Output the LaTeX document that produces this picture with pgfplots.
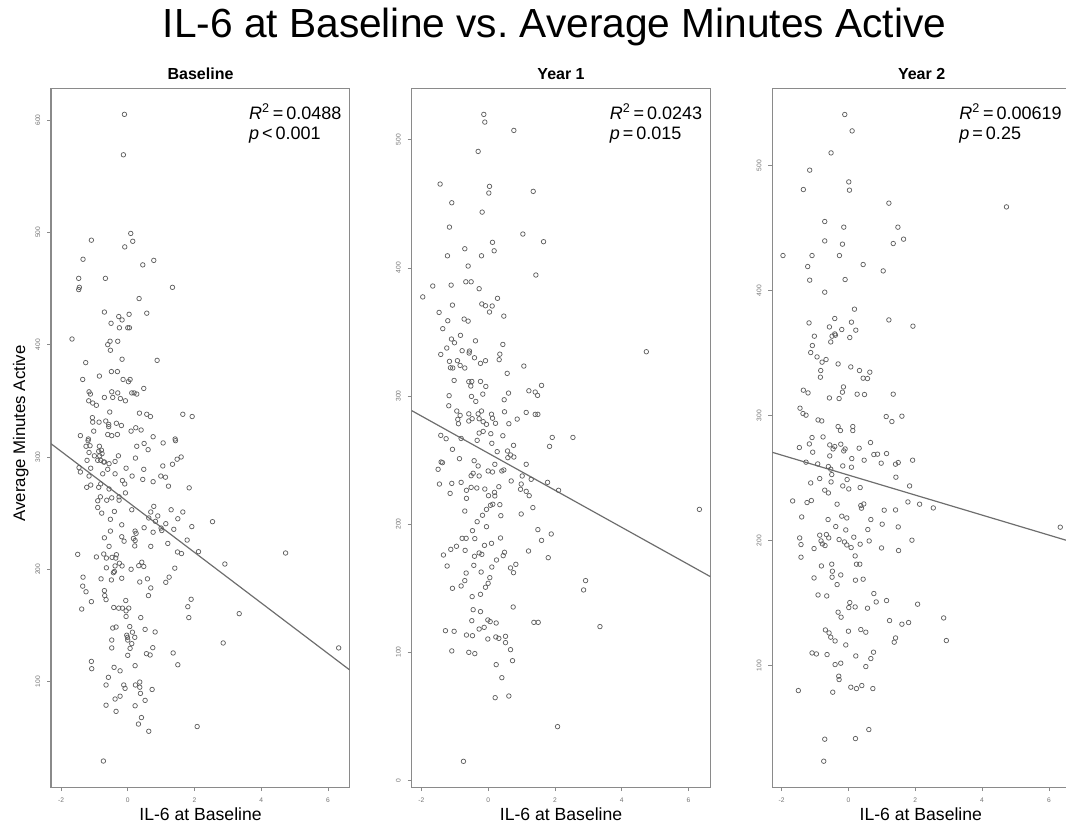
\documentclass[border=0pt]{standalone}
\usepackage{pgfplots}
\pgfplotsset{compat=1.18}
\usepackage{fontspec}
\setmainfont{Liberation Sans}

\definecolor{framegray}{HTML}{8A8A8A}
\definecolor{markgray}{HTML}{606060}
\definecolor{linegray}{HTML}{6E6E6E}

\pgfplotsset{
  panel/.style={
    scale only axis,
    width=224pt, height=524pt,
    anchor=south west,
    axis line style={framegray, line width=0.9pt},
    tick align=outside,
    xtick pos=bottom, ytick pos=left,
    major tick length=3pt,
    tick style={framegray, line width=0.5pt},
    xtick={-2,0,2,4,6},
    tick label style={font=\fontsize{5}{6}\selectfont, text=black!55},
    /pgf/number format/assume math mode=true,
    xticklabel style={inner sep=5pt},
    yticklabel style={rotate=90, anchor=south, inner sep=5pt},
    clip=true,
  },
  pts/.style={only marks, mark=o, mark size=1.7pt,
    mark options={draw=markgray, line width=0.55pt}},
  fit/.style={no marks, linegray, line width=0.9pt},
}
\tikzset{stat/.style={anchor=north east, align=left, inner sep=0pt,
    font=\fontsize{13.5}{14.5}\selectfont}}

\begin{document}
\begin{tikzpicture}
\useasboundingbox (0,0) rectangle (799.5pt,618pt);

% ---------- Baseline ----------
\begin{axis}[panel, at={(38.25pt,27.6pt)},
  xmin=-2.3, xmax=6.65, ymin=6, ymax=628,
  ytick={100,200,300,400,500,600}]
\addplot[pts] coordinates {
(-0.10,605)(-0.13,569)(0.09,499)(0.15,492)(-0.09,487)(-1.09,493)(-1.34,476)(0.78,475)(0.45,471)(-1.47,459)
(-0.67,459)(-1.45,451)(-1.47,449)(1.34,451)(0.34,441)(-0.70,429)(0.57,428)(-0.27,425)(-0.17,422)(0.04,427)
(-0.50,419)(-0.25,415)(0.00,415)(0.05,415)(-1.67,405)(-0.30,403)(-0.53,403)(-0.60,400)(-0.52,395)(-0.17,387)
(0.88,386)(-1.26,384)(-0.49,376)(-0.31,376)(-0.85,372)(-1.35,369)(-0.14,369)(0.02,367)(0.07,369)(0.48,361)
(-1.16,358)(-1.12,356)(-0.48,358)(-0.30,357)(0.12,357)(0.19,357)(0.27,356)(-0.70,353)(-0.45,353)(-0.22,352)
(-0.07,350)(-1.17,350)(-1.05,348)(-0.94,346)(-0.54,340)(0.35,339)(0.57,338)(0.68,336)(1.65,338)(1.93,336)
(-1.06,335)(-1.05,331)(-0.86,331)(-0.66,332)(-0.57,329)(-0.34,330)(-0.19,328)(-0.57,327)(0.24,326)(0.10,323)
(0.40,324)(-1.02,323)(-1.42,319)(-0.60,320)(-0.48,319)(-0.31,320)(0.76,318)(1.42,316)(-1.18,316)
(-1.19,314.5)(-1.13,310)(-1.25,309.5)(-0.85,309.5)(0.27,309.5)(-1.16,304)(-1.0,301)(-0.87,305)(-0.79,306)(-0.77,303)
(-0.84,301)(-0.81,297)(-0.72,295.5)(-0.70,295.5)(-0.9,297)(-1.22,297)(-0.28,301)(-0.38,296)(-0.56,294)(0.23,299)
(0.48,289)(1.05,292)(1.34,293.5)(1.48,298)(1.60,300)(0.61,306.5)(0.49,312)(1.06,312.5)(1.43,314.5)(-1.46,290.5)
(-1.42,286.6)(-1.16,283)(-1.11,290)(-0.6,289)(-0.75,285)(-0.38,285)(-0.05,290)(0.13,283)(-0.16,279)(-0.09,276)
(0.45,280)(0.76,278)(0.99,283)(1.13,282)(1.22,274)(1.84,272.5)(-1.23,273)(-1.11,275)(-0.87,273)(-0.81,276)
(-0.56,271.5)(-0.07,268)(-0.26,264.5)(-0.26,261.5)(-0.48,263.6)(-0.63,261.5)(-0.9,261)(-0.82,264.5)(-0.9,255)(-0.78,250)
(-0.4,251.5)(0.12,253)(0.78,256)(0.69,251)(0.9,247.5)(0.63,245.7)(0.83,242.7)(1.3,253)(1.65,251)(1.5,245)
(1.92,238)(2.54,242.4)(-0.52,244.5)(-0.18,239.6)(-0.52,234)(0.22,234)(0.25,232)(0.49,237)(0.76,233)(1.0,236.7)
(1.02,234.5)(1.14,240.6)(1.38,235.6)(-0.70,228)(-0.56,220.4)(-0.11,225)(0.17,227.4)(0.22,225.6)(0.21,220.8)(-0.18,229)
(0.69,220.4)(1.2,223)(1.78,226)(1.49,215.4)(1.61,214)(2.12,215.7)(-1.5,213.3)(-0.94,211)(-0.72,213.6)(-0.64,210)
(-0.47,210.6)(-0.34,213)(-0.36,210)(-0.25,205.4)(-0.17,203)(-0.38,203)(-0.64,201.3)(0.42,206.3)(0.48,202.5)(0.33,203.2)
(0.1,200)(-0.4,198)(-0.43,197)(-0.49,190.5)(-0.8,191.5)(-0.18,192)(0.59,191.5)(0.36,188.7)(0.69,183.4)(0.62,176.6)
(1.14,188.4)(1.24,193)(1.41,201)(2.91,204.7)(4.73,214.5)(-1.34,193)(-1.35,185)(-1.25,180)(-1.09,171.2)(-1.38,164.6)
(-0.7,181)(-0.69,176.6)(-0.65,173)(-0.42,166)(-0.27,165.4)(-0.16,165.4)(-0.06,172.2)(-0.05,163)(0.03,165.4)(-0.05,158)
(1.9,173.3)(1.8,166.7)(1.83,157)(3.34,160.5)(-0.45,147.7)(-0.35,148.6)(0.06,149)(0.14,144)(0.39,157)(0.52,146.5)
(0.82,144.2)(-0.03,141.3)(-0.01,139.4)(0.21,139.4)(-0.48,137)(0.0,137)(0.12,133.8)(-0.48,130)(0.07,129.6)(0.75,130.2)
(2.86,134.4)(6.32,130)(0.0,123.4)(0.56,124.9)(0.67,123.7)(1.36,125.5)(1.5,115)(-1.09,118)(-1.08,111.5)(-0.41,112.7)
(-0.23,109.6)(0.22,114.2)(-0.58,103.8)(-0.65,97)(-0.12,97)(-0.08,94)(0.23,97)(0.36,99.6)(0.36,95)(0.73,93)
(0.38,89.5)(-0.38,84.5)(-0.23,87)(-0.65,79)(0.22,78.5)(0.52,83.3)(-0.35,73.5)(0.41,68)(0.32,62.2)(0.63,55.8)
(2.08,60)(-0.73,29.3)
};
\addplot[fit] coordinates {(-2.3,311.8)(6.65,110.4)};
\node[stat] at (rel axis cs:0.973,0.978) {\textit{R}\textsuperscript{2}\,=\,0.0488\\\textit{p}\,<\,0.001};
\end{axis}

% ---------- Year 1 ----------
\begin{axis}[panel, at={(308.8pt,27.6pt)},
  xmin=-2.29, xmax=6.66, ymin=-5.5, ymax=540,
  ytick={0,100,200,300,400,500}]
\addplot[pts] coordinates {
(-0.13,519.8)(-0.10,513.8)(0.77,507.3)(-0.3,490.9)(-1.44,465.4)(0.04,463.6)(0.02,458.4)(1.35,459.7)(-1.09,450.8)(-0.18,443.5)
(-1.16,431.8)(1.04,426.4)(0.13,419.9)(1.66,420.4)(-0.7,414.9)(0.18,413.3)(-1.22,409.4)(-0.2,409.4)(-0.6,401.4)(1.43,394.4)
(-0.67,389.1)(-0.51,389.1)(-1.66,385.8)(-1.11,386.5)(-0.27,383.7)(-1.96,377.3)(0.28,376.2)(-0.19,371.8)(-0.08,370.4)(0.12,370.2)
(-1.07,370.9)(-1.47,365.2)(0.04,365.5)(0.47,362.3)(-1.21,358.7)(-0.72,360)(-0.6,358.4)(-1.36,352.5)(-0.83,347.3)(-1.1,344.4)
(-1.01,341.5)(-0.38,343)(-1.24,337.4)(-0.78,335.3)(-0.56,335)(-0.57,333.5)(0.44,340.2)(-1.42,332.4)(-0.41,329.8)(0.35,332.6)
(0.33,328.3)(-1.16,327)(-0.92,327.5)(-0.08,327.5)(-0.23,325.4)(-1.13,322)(-1.06,321.8)(-0.84,323.8)(-0.7,321.8)(1.07,323.3)
(0.57,317.6)(-1.02,312.1)(-0.58,311.1)(-0.49,311.3)(-0.23,311.3)(-0.07,307.4)(-0.52,307.7)(1.6,308.2)(1.22,304)(1.41,303)
(1.48,300.4)(0.61,302.2)(-1.17,300.2)(-0.5,299.6)(-0.16,301.4)(-0.37,295.7)(0.48,297)(-1.18,292.3)(-0.94,288.2)(-0.84,284.8)
(-0.91,281.7)(-0.89,278.3)(-0.58,286)(-0.58,280.4)(-0.48,282.2)(-0.3,286)(-0.2,288.2)(-0.27,282.2)(-0.15,279.9)(-0.05,277.8)
(0.1,285.7)(0.13,282.6)(0.22,278.6)(0.49,287.6)(0.87,281.9)(0.62,278.3)(1.14,287.1)(1.41,285.6)(1.49,285.6)(-0.27,271)
(-0.15,272.3)(0.08,270.5)(0.44,268.9)(-1.42,269.2)(-1.26,266.6)(-0.81,266.8)(1.92,267.6)(2.54,267.6)(-0.33,265.3)(0.11,263)
(0.76,261.4)(1.84,260.6)(4.74,334.5)
(-1.07,258.3)(0.27,256.5)(0.58,257)(0.67,253.9)(0.59,251.8)(0.77,252.3)(-0.86,251)(-1.41,248.4)(-1.37,247.9)(-0.42,249.4)
(0.2,246.6)(1.14,246.6)(-0.3,245.3)(-1.5,242.7)(0.0,241.4)(0.13,240.6)(0.41,241.4)(0.47,242.2)(-0.45,239.6)(-0.51,237.7)
(-0.27,237.5)(1.02,237.5)(1.29,234.9)(-1.46,231.2)(-1.09,231.7)(-0.81,232.5)(0.69,233.6)(0.99,231.2)(1.78,232.5)(-0.51,228.6)
(-0.34,228.1)(-0.1,227.3)(0.32,229.1)(-0.65,226.3)(0.97,227.1)(1.14,225.5)(2.11,226.3)(-1.14,223.9)(0.01,222.1)(0.2,221.9)
(0.19,224.7)(1.23,222.1)(-0.65,220)(0.07,214.6)(0.14,215.4)(0.35,215.1)(-0.05,211.4)(-0.7,210.1)(1.34,212.8)(-0.17,206.8)
(0.38,206.5)(0.99,207.8)(6.33,211.4)(-0.33,201.8)(-0.05,197.9)(-0.47,194.8)(1.49,195.6)(-0.78,188.8)(-0.66,188.8)(-0.4,188.6)
(0.37,189.1)(1.89,192.2)(1.6,187.2)(-0.95,182.6)(-1.12,180.2)(-0.69,179.4)(-0.11,183.3)(0.1,184.9)(-1.34,175.8)(-0.41,174.8)
(-0.27,177.4)(-0.19,176.3)(0.45,175.3)(0.49,177.9)(0.25,171.9)(1.21,178.9)(1.8,173.7)(-1.23,167.2)(-0.43,167.7)(0.11,166.4)
(0.67,165.7)(0.83,168.5)(-0.66,161.7)(-0.21,162.5)(0.76,162)(-0.7,155.8)(0.05,158.1)(0.0,153.7)(-0.08,150.6)(-1.07,149.8)
(-0.81,151.6)(2.92,155.8)(2.86,148.5)(-0.48,143.3)(-0.23,145.1)(0.75,135.2)(-0.45,133.1)(-0.23,131.6)(-0.49,124.5)(-0.01,125.1)
(0.06,123.8)(0.24,122.7)(1.37,123.2)(1.5,123.2)(3.35,119.9)(-1.28,116.7)(-1.02,116.2)(-0.27,118)(-0.12,119.3)(-0.65,113.3)
(-0.47,112.8)(0.23,111.8)(0.32,110.7)(0.52,112.3)(-0.01,110.2)(0.52,107.4)(-1.09,100.9)(-0.58,99.8)(-0.4,98.8)(0.67,101.9)
(0.73,93.3)(0.24,90.2)(0.41,80)(0.21,64.4)(0.62,65.7)(2.08,41.8)(-0.74,14.7)
};
\addplot[fit] coordinates {(-2.29,288.5)(6.66,158.9)};
\node[stat] at (rel axis cs:0.973,0.978) {\textit{R}\textsuperscript{2}\,=\,0.0243\\\textit{p}\,=\,0.015};
\end{axis}

% ---------- Year 2 ----------
\begin{axis}[panel, at={(579.2pt,27.6pt)},
  xmin=-2.28, xmax=6.66, ymin=2.7, ymax=561.6,
  ytick={100,200,300,400,500}]
\addplot[pts] coordinates {
(-0.11,540.8)(0.11,527.7)(-0.52,510.1)(-1.16,496.3)(-1.35,480.8)(0.01,486.9)(0.03,480.3)(1.21,469.9)(4.73,466.9)(-0.71,455.2)
(-0.14,450.7)(1.48,450.7)(-0.71,439.7)(-0.18,437.1)(1.34,437.6)(1.65,441.1)(-1.96,428)(-1.09,428)(-0.27,428)(-1.22,419.2)
(0.44,420.8)(1.04,415.7)(-1.16,408.3)(-0.1,408.8)(-0.71,398.7)(0.18,385.1)(-1.18,374.1)(-0.41,377.6)(0.09,374.7)(1.21,376.5)
(1.93,371.5)(-0.57,370.9)(-0.2,368.8)(0.22,368.3)(-1.02,363.5)(-0.41,365.3)(-0.39,364.3)(-0.49,363.5)(0.04,362.4)(-1.08,356)
(-0.53,358.9)(-1.13,350.4)(-0.94,346.9)(-0.79,342.7)(-0.67,344.8)(-0.31,341.3)(0.07,338.9)(-0.83,336)(-0.84,330.7)(0.33,336)
(0.64,334.7)(0.44,329.9)(0.57,329.6)(-0.15,322.9)(-0.18,318.7)(-1.35,320.3)(-1.21,318.1)(-0.57,314.1)(-0.28,313.6)(0.26,317.1)
(0.48,316.8)(1.34,317.1)(-1.45,305.9)(-1.36,301.6)(-1.27,300.3)(-0.91,296.5)(-0.8,295.7)(1.13,299.2)(1.3,295.2)(1.6,299.5)
(-0.31,291.2)(-0.24,288)(0.13,291.2)(0.13,288)(-1.09,282.4)(-0.76,282.9)
(0.66,278.4)(-1.17,277.3)(-0.56,276.5)(-0.23,277.1)(-0.41,275.2)(-0.46,273.3)(-0.1,273.3)(-0.14,271.7)(0.32,273.9)(-1.47,274.4)
(-1.07,270.7)(0.76,268.8)(0.87,269.1)(1.14,269.6)(-0.56,267.7)(0.1,265.6)(0.47,264.3)(1.92,264.3)(-1.27,262.7)(-0.92,261.3)
(0.98,261.9)(1.41,261.1)(1.49,262.4)(-0.6,259.2)(-0.53,257.1)(-0.17,259.7)(0.09,258.7)(-0.5,252.8)(1.42,250.7)(-0.86,249.6)
(-0.04,248.8)(-1.13,246.1)(-0.52,246.9)(1.83,243.7)(-0.17,243.7)(0.35,242.4)(0.01,241.3)(-0.71,240.3)(-0.6,238.1)(-1.67,231.7)
(-1.24,230.4)(-1.11,232)(-0.34,229.1)(0.37,228)(0.46,229.3)(0.39,225.9)(1.78,230.9)(2.13,229.1)(2.54,226.1)(1.07,224.3)
(1.41,224.5)(-1.4,218.9)(-0.61,216.8)(-0.2,219.5)(-0.05,218.1)(0.67,216.8)(1.01,213.1)(-0.38,211.2)(1.49,210.9)(-0.08,208.5)
(0.58,208.8)(-0.86,204.3)(-0.66,204.8)(-0.59,202.1)(0.16,202.7)(-1.46,202.1)(-0.28,200.8)(-0.12,198.9)(-0.82,199.7)(-0.78,197.3)
(-0.7,196)(-0.05,196.5)(0.08,194.4)(0.35,197.1)(0.62,199.7)(1.9,200.3)(-1.42,196.8)(-1.03,193.6)(0.99,194.1)(1.5,192)
(-1.42,186.7)(0.2,187.7)(0.24,181.1)(0.34,181.1)(-0.81,179.7)(-0.5,181.1)(-0.48,175.5)(-0.23,172.5)(-0.49,170.7)(-1.03,170.1)
(0.21,168.3)(0.44,169.1)(-0.34,164.8)(0.76,157.6)(-0.91,156.5)(-0.65,155.7)(0.04,150.4)(0.01,146.4)(0.2,146.9)(0.57,145.9)
(0.83,150.9)(1.14,152)(2.07,149.1)(-0.31,142.7)(-0.22,138.7)(1.23,136)(1.6,133.1)(1.8,134.4)(2.85,138.1)(-0.69,128.5)
(-0.58,126.1)(-0.53,122.7)(-0.4,119.7)(0.0,127.5)(0.37,128.8)(0.52,126.7)(1.41,122.1)(1.37,118.7)(2.93,120)(-0.08,116.5)
(-1.09,110.1)(-0.96,109.3)(-0.64,108.8)(0.22,107.7)(0.67,105.6)(0.75,110.7)(-0.4,100.8)(-0.23,101.9)(0.52,99.2)(-0.29,91.5)
(-0.28,88.8)(-1.5,80)(-0.47,78.7)(0.07,82.7)(0.24,81.6)(0.4,84)(0.73,81.6)(0.61,48.8)(-0.71,41.1)(0.21,41.6)
(-0.74,23.5)(6.34,210.7)
};
\addplot[fit] coordinates {(-2.28,270.6)(6.66,199.1)};
\node[stat] at (rel axis cs:0.97,0.978) {\textit{R}\textsuperscript{2}\,=\,0.00619\\\textit{p}\,=\,0.25};
\end{axis}

% ---------- titles and labels ----------
\node[anchor=base, font=\fontsize{30.5}{33}\selectfont] at (415.9pt,590pt)
  {IL-6 at Baseline vs.\ Average Minutes Active};
\node[anchor=base, font=\fontsize{12}{13}\bfseries] at (150.4pt,558pt) {Baseline};
\node[anchor=base, font=\fontsize{12}{13}\bfseries] at (420.8pt,558pt) {Year 1};
\node[anchor=base, font=\fontsize{12}{13}\bfseries] at (691.2pt,558pt) {Year 2};
\node[anchor=base, font=\fontsize{13.2}{14}\selectfont] at (150.4pt,3pt) {IL-6 at Baseline};
\node[anchor=base, font=\fontsize{13.2}{14}\selectfont] at (420.8pt,3pt) {IL-6 at Baseline};
\node[anchor=base, font=\fontsize{13.2}{14}\selectfont] at (690.6pt,3pt) {IL-6 at Baseline};
\node[anchor=base, rotate=90, font=\fontsize{12.6}{14}\selectfont] at (18.9pt,292.9pt) {Average Minutes Active};
\end{tikzpicture}
\end{document}
